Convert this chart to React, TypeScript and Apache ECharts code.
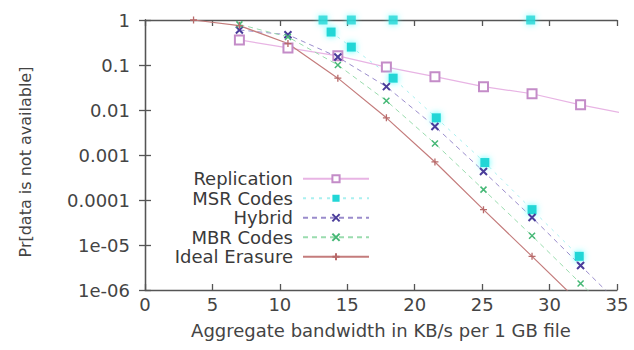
import React, { useEffect, useRef } from "react";
import * as echarts from "echarts";

// x positions (KB/s) of the simulated configurations
const xGrid = [7.0, 10.6, 14.3, 17.9, 21.5, 25.1, 28.7, 32.3, 35.9];
const replicationValues = [0.36, 0.24, 0.16, 0.09, 0.055, 0.033, 0.023, 0.013, 0.008];
const hybridValues = [0.6, 0.47, 0.15, 0.033, 0.0043, 4.3e-4, 4.1e-5, 3.5e-6, 3e-7];
const mbrValues = [0.8, 0.42, 0.1, 0.016, 0.0018, 1.7e-4, 1.6e-5, 1.4e-6, 1.3e-7];

const idealX = [3.6, 7.0, 10.6, 14.3, 17.9, 21.5, 25.1, 28.7, 32.3];
const idealValues = [1, 0.75, 0.3, 0.051, 0.0067, 7e-4, 6.1e-5, 5.6e-6, 5e-7];

const msrX = [13.8, 15.3, 18.4, 21.6, 25.2, 28.7, 32.2];
const msrValues = [0.54, 0.25, 0.051, 0.0067, 6.8e-4, 6.1e-5, 5.6e-6];
const msrTopX = [13.2, 15.3, 18.4, 28.6];
const msrTopValues = [1, 1, 1, 1];

const xTicks = [0, 5, 10, 15, 20, 25, 30, 35];
const yTickLabels = ["1e-06", "1e-05", "0.0001", "0.001", "0.01", "0.1", "1"];
const legendNames = ["Replication", "MSR Codes", "Hybrid", "MBR Codes", "Ideal Erasure"];

const zip = (xs: number[], ys: number[]) => xs.map((x, i) => [x, ys[i]]);

const FONT = "DejaVu Sans";
const AXIS_COLOR = "#555";
const TEXT_COLOR = "#444";

const X_SYMBOL = "path://M0,0L10,10M10,0L0,10";
const PLUS_SYMBOL = "path://M5,0L5,10M0,5L10,5";

export default function App() {
  const ref = useRef<HTMLDivElement>(null);
  useEffect(() => {
    document.body.style.margin = "0";
    if (!ref.current) return;
    const chart = echarts.init(ref.current, undefined, { renderer: "svg" });
    const axisCommon = {
      axisLine: { show: true, lineStyle: { color: AXIS_COLOR, width: 1.3 } },
      axisTick: { show: true, inside: true, length: 6, lineStyle: { color: AXIS_COLOR, width: 1.3 } },
      splitLine: { show: false },
    };
    chart.setOption({
      animation: false,
      backgroundColor: "#fff",
      grid: { left: 145, right: 17, top: 20, bottom: 60 },
      legend: {
        data: legendNames,
        orient: "vertical",
        align: "right",
        right: 264,
        top: 169,
        padding: 0,
        itemWidth: 66,
        itemHeight: 9,
        itemGap: 0,
        textStyle: {
          fontFamily: FONT,
          fontSize: 18,
          lineHeight: 19.5,
          color: "#3a3a3a",
          padding: [0, 5, 0, 0],
        },
      },
      xAxis: [
        {
          type: "value",
          min: 0,
          max: 35,
          interval: 5,
          position: "bottom",
          name: "Aggregate bandwidth in KB/s per 1 GB file",
          nameLocation: "middle",
          nameGap: 31,
          nameTextStyle: { fontFamily: FONT, fontSize: 18, color: TEXT_COLOR },
          axisLabel: {
            fontFamily: FONT,
            fontSize: 18,
            color: TEXT_COLOR,
            margin: 5,
            formatter: (v: number) => (xTicks.includes(v) ? String(v) : ""),
          },
          ...axisCommon,
        },
        {
          type: "value",
          min: 0,
          max: 35,
          interval: 5,
          position: "top",
          axisLabel: { show: false },
          ...axisCommon,
        },
      ],
      yAxis: [
        {
          type: "log",
          logBase: 10,
          min: 1e-6,
          max: 1,
          position: "left",
          name: "Pr[data is not available]",
          nameLocation: "middle",
          nameGap: 112,
          nameTextStyle: {
            fontFamily: FONT,
            fontSize: 16,
            color: TEXT_COLOR,
            padding: [0, 14, 0, 0],
          },
          axisLabel: {
            fontFamily: FONT,
            fontSize: 18,
            color: TEXT_COLOR,
            margin: 15,
            formatter: (v: number) => {
              const e = Math.round(Math.log10(v));
              return yTickLabels[e + 6] ?? "";
            },
          },
          ...axisCommon,
        },
        {
          type: "log",
          logBase: 10,
          min: 1e-6,
          max: 1,
          position: "right",
          axisLabel: { show: false },
          ...axisCommon,
        },
      ],
      series: [
        {
          name: "Replication",
          type: "line",
          data: zip(xGrid, replicationValues),
          symbol: "emptyRect",
          symbolSize: 9,
          lineStyle: { color: "#e8b4e4", width: 1.2 },
          itemStyle: { color: "#c48cc8", borderColor: "#c48cc8", borderWidth: 1.2 },
        },
        {
          name: "MSR Codes",
          type: "line",
          data: zip(msrX, msrValues),
          symbol: "rect",
          symbolSize: 9,
          lineStyle: { color: "#aaf0f0", width: 1, type: [3, 5] },
          itemStyle: { color: "#22d6d6", shadowColor: "#5ff", shadowBlur: 6 },
        },
        {
          name: "MSR Codes",
          type: "scatter",
          data: zip(msrTopX, msrTopValues),
          symbol: "rect",
          symbolSize: 9,
          itemStyle: { color: "#22d6d6", shadowColor: "#5ff", shadowBlur: 6 },
        },
        {
          name: "Hybrid",
          type: "line",
          data: zip(xGrid, hybridValues),
          symbol: X_SYMBOL,
          symbolSize: 7,
          lineStyle: { color: "#9a8ccc", width: 1, type: [5, 4] },
          itemStyle: { color: "rgba(0,0,0,0)", borderColor: "#4a3c9a", borderWidth: 2 },
        },
        {
          name: "MBR Codes",
          type: "line",
          data: zip(xGrid, mbrValues),
          symbol: X_SYMBOL,
          symbolSize: 6,
          lineStyle: { color: "#9adcae", width: 1, type: [5, 4] },
          itemStyle: { color: "rgba(0,0,0,0)", borderColor: "#46b876", borderWidth: 1.5 },
        },
        {
          name: "Ideal Erasure",
          type: "line",
          data: zip(idealX, idealValues),
          symbol: PLUS_SYMBOL,
          symbolSize: 7,
          lineStyle: { color: "#c47c7c", width: 1.2 },
          itemStyle: { color: "rgba(0,0,0,0)", borderColor: "#b86a6a", borderWidth: 1.3 },
        },
      ],
    });
    return () => chart.dispose();
  }, []);
  return <div ref={ref} style={{ width: 634, height: 350 }} />;
}
